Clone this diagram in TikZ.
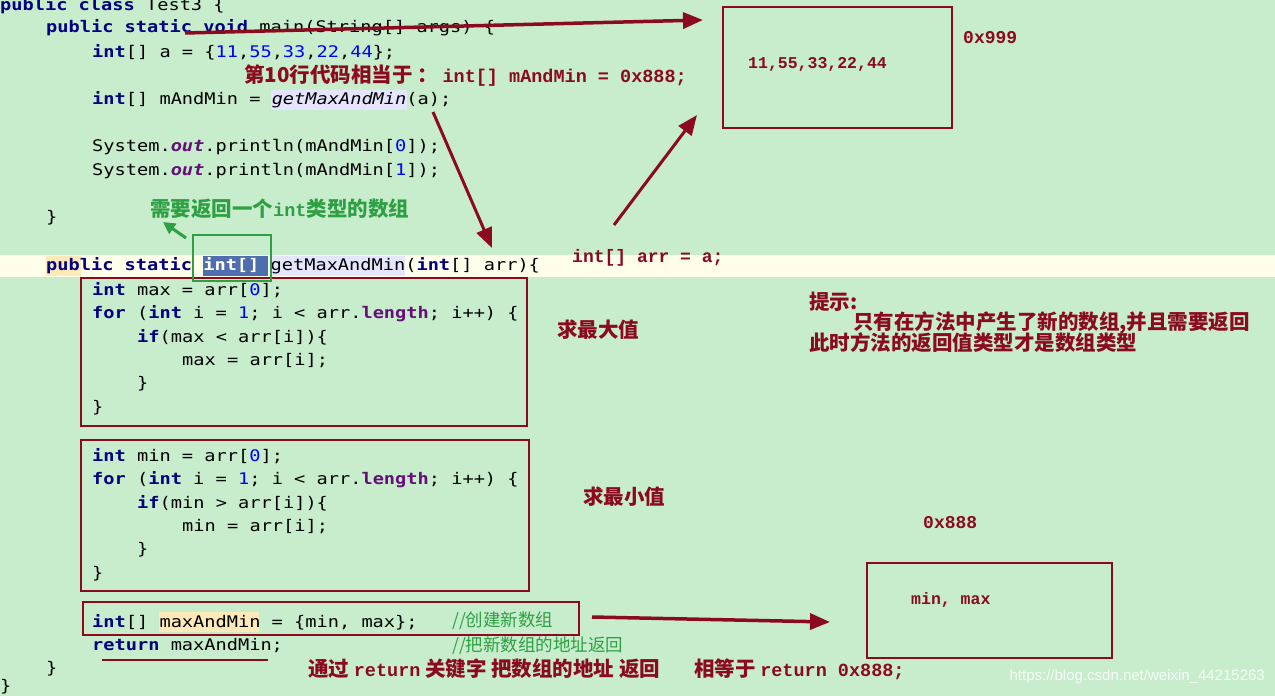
\documentclass[tikz,border=0pt]{standalone}
\usepackage{fontspec}
\usetikzlibrary{arrows.meta}
\newfontfamily\code[FakeStretch=1.165]{DejaVu Sans Mono}
\newfontfamily\cjk{Noto Sans CJK SC}
\newfontfamily\lmono{Liberation Mono}
\definecolor{bg}{HTML}{C7EDCC}
\definecolor{kw}{HTML}{000080}
\definecolor{num}{HTML}{0000FF}
\definecolor{fld}{HTML}{660E7A}
\definecolor{dred}{HTML}{8B0A1E}
\definecolor{cgreen}{HTML}{2EA043}
\definecolor{sel}{HTML}{4F6EAD}
\newcommand{\kwd}[1]{{\color{kw}\bfseries #1}}
\newcommand{\nm}[1]{{\color{num}#1}}
\newcommand{\fl}[1]{{\color{fld}\bfseries\itshape #1}}
\newcommand{\mn}[1]{{\lmono\fontsize{18.5}{20}\selectfont #1}}
\tikzset{
 cl/.style={anchor=west,inner sep=0pt,font=\code\fontsize{16}{18}\selectfont,text=black},
 ann/.style={anchor=west,inner sep=0pt,font=\cjk\bfseries\fontsize{20.5}{23}\selectfont,text=dred},
 monoann/.style={anchor=west,inner sep=0pt,font=\lmono\bfseries\fontsize{18}{20}\selectfont,text=dred},
 rbox/.style={draw=dred,line width=2pt},
 rarr/.style={draw=dred,line width=3.5pt,-{Triangle[length=20pt,width=16pt]}},
}
\begin{document}
\begin{tikzpicture}[x=1pt,y=-1pt]
\fill[bg] (0,0) rectangle (1275,696);
\useasboundingbox (0,0) rectangle (1275,696);
% highlights
\fill[yellow!8] (0,255) rectangle (1275,277);
\fill[yellow!40!orange!25] (46,256) rectangle (81,276);
\fill[sel] (203,256) rectangle (268,276);
\fill[blue!10] (270,256) rectangle (405,276);
\fill[blue!10] (271,90) rectangle (407,110);
\fill[yellow!40!orange!25] (159,612) rectangle (259,632);
% code
\node[cl] (l1) at (0,6) {\kwd{public class} Test3 \{};
\node[cl] (l2) at (46,28) {\kwd{public static void} main(String[] args) \{};
\node[cl] (l3) at (92,52) {\kwd{int}[] a = \{\nm{11},\nm{55},\nm{33},\nm{22},\nm{44}\};};
\node[cl] (l4) at (92,100) {\kwd{int}[] mAndMin = {\itshape getMaxAndMin}(a);};
\node[cl] (l5) at (92,147) {System.\fl{out}.println(mAndMin[\nm{0}]);};
\node[cl] (l6) at (92,171) {System.\fl{out}.println(mAndMin[\nm{1}]);};
\node[cl] (l7) at (46,218) {\}};
\node[cl] (l8) at (46,266) {\kwd{public static} {\color{white}\bfseries int[]} getMaxAndMin(\kwd{int}[] arr)\{};
\node[cl] (l9) at (92,290) {\kwd{int} max = arr[\nm{0}];};
\node[cl] (l10) at (92,314) {\kwd{for} (\kwd{int} i = \nm{1}; i < arr.{\color{fld}\bfseries length}; i++) \{};
\node[cl] (l11) at (137,337) {\kwd{if}(max < arr[i])\{};
\node[cl] (l12) at (182,361) {max = arr[i];};
\node[cl] (l13) at (137,384) {\}};
\node[cl] (l14) at (92,408) {\}};
\node[cl] (l15) at (92,456) {\kwd{int} min = arr[\nm{0}];};
\node[cl] (l16) at (92,480) {\kwd{for} (\kwd{int} i = \nm{1}; i < arr.{\color{fld}\bfseries length}; i++) \{};
\node[cl] (l17) at (137,503) {\kwd{if}(min > arr[i])\{};
\node[cl] (l18) at (182,527) {min = arr[i];};
\node[cl] (l19) at (137,550) {\}};
\node[cl] (l20) at (92,574) {\}};
\node[cl] (l21) at (92,622) {\kwd{int}[] maxAndMin = \{min, max\};};
\node[cl] (l22) at (92,646) {\kwd{return} maxAndMin;};
\node[cl] (l23) at (46,669) {\}};
\node[cl] (l24) at (0,687) {\}};
\node[anchor=west,inner sep=0pt,text=cgreen,font=\cjk\fontsize{17.5}{20}\selectfont] (c1) at (452,621) {//创建新数组};
\node[anchor=west,inner sep=0pt,text=cgreen,font=\cjk\fontsize{17.5}{20}\selectfont] (c2) at (452,646) {//把新数组的地址返回};
% boxes
\node[rbox,minimum width=229pt,minimum height=121pt,anchor=north west,inner sep=0pt] (b999) at (722,6) {};
\node[monoann,font=\lmono\bfseries\fontsize{16.5}{18}\selectfont] (v999) at (748,64) {11,55,33,22,44};
\node[monoann] (t999) at (963,38) {0x999};
\node[rbox,minimum width=245pt,minimum height=95pt,anchor=north west,inner sep=0pt] (b888) at (866,562) {};
\node[monoann,font=\lmono\bfseries\fontsize{16.5}{18}\selectfont] (v888) at (911,600) {min, max};
\node[monoann] (t888) at (923,523) {0x888};
\draw[rbox] (81,278) rectangle (527,426);
\draw[rbox] (81,440) rectangle (529,591);
\draw[rbox] (83,602) rectangle (579,635);
\draw[draw=cgreen,line width=2pt] (193,235) rectangle (271,281);
% annotations
\node[ann] (a1) at (244,76) {第10行代码相当于 ： \mn{int[] mAndMin = 0x888;}};
\node[monoann] (a2) at (572,258) {int[] arr = a;};
\node[ann] (a3) at (809,302) {提示:};
\node[ann] (a4) at (853,323) {只有在方法中产生了新的数组,并且需要返回};
\node[ann] (a5) at (809,343) {此时方法的返回值类型才是数组类型};
\node[ann] (a6) at (557,330) {求最大值};
\node[ann] (a7) at (583,497) {求最小值};
\node[ann] (a8) at (308,669) {通过 \mn{return} 关键字 把数组的地址 返回\hspace{34pt}相等于 \mn{return 0x888;}};
\node[ann,text=cgreen] (a9) at (150,209) {需要返回一个\mn{int}类型的数组};
\node[anchor=east,inner sep=0pt,text=white!85!bg,font=\fontspec{Liberation Sans}\fontsize{15}{16}\selectfont] (wm) at (1265,677) {https://blog.csdn.net/weixin\_44215263};
% arrows
\coordinate (s1) at (185,33); \coordinate (e1) at (703,20);
\draw[rarr] (s1) -- (e1);
\coordinate (s2) at (433,112); \coordinate (e2) at (492,248);
\draw[rarr,line width=3pt] (s2) -- (e2);
\coordinate (s3) at (614,225); \coordinate (e3) at (697,115);
\draw[rarr,line width=3pt] (s3) -- (e3);
\coordinate (s4) at (592,617);
\draw[rarr] (s4) -- (830,622);
\coordinate (s5) at (186,238); \coordinate (e5) at (163,222);
\draw[draw=cgreen,line width=3pt,-{Triangle[length=12pt,width=12pt]}] (s5) -- (e5);
\coordinate (u1) at (102,660); \coordinate (u2) at (268,660);
\draw[dred,line width=2.5pt] (u1) -- (u2);
\end{tikzpicture}
\end{document}
